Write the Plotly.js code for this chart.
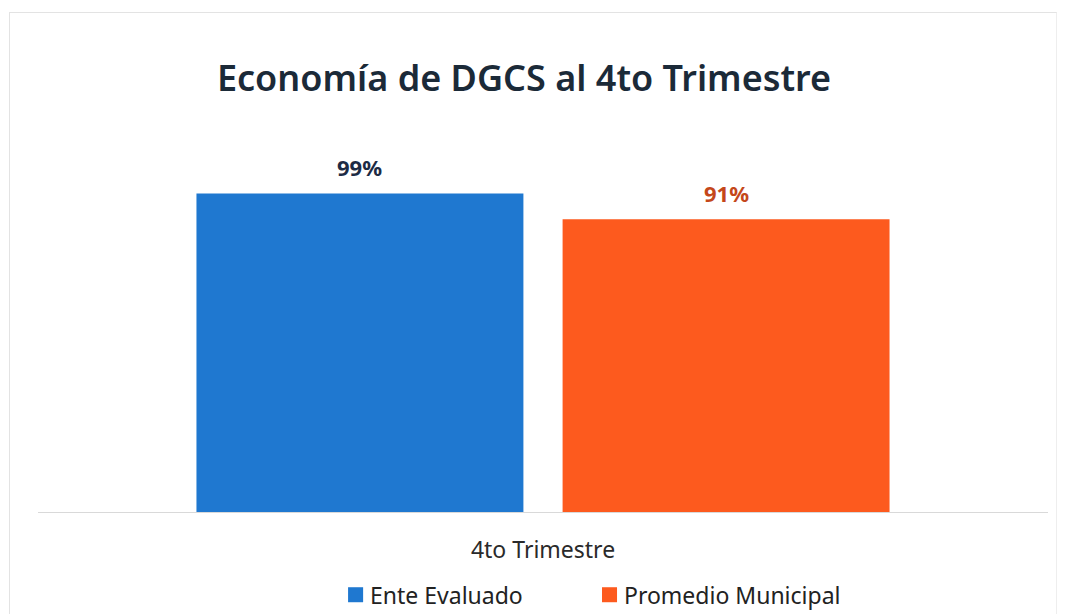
<!DOCTYPE html>
<html>
<head>
<meta charset="utf-8">
<script src="https://cdn.plot.ly/plotly-3.0.1.min.js"></script>
<style>
html,body{margin:0;padding:0;background:#fff;}
#frame{position:absolute;left:9px;top:12px;width:1046px;height:610px;border-left:1px solid #e3e3e3;border-top:1px solid #e3e3e3;border-right:1px solid #eeeeee;}
#chart{position:absolute;left:0;top:0;width:1065px;height:614px;}
</style>
</head>
<body>
<div id="frame"></div>
<div id="chart"></div>
<script>
const categories = ["4to Trimestre"];
const seriesNames = ["Ente Evaluado", "Promedio Municipal"];
const enteEvaluado = [99];
const promedioMunicipal = [91];
const seriesValues = [enteEvaluado, promedioMunicipal];

const colors = ["#1f78d0", "#fd5a1e"];
const labelColors = ["#1d2b45", "#c4471a"];

const traces = seriesValues.map((vals, i) => ({
  type: "bar",
  name: seriesNames[i],
  x: categories,
  y: vals,
  marker: {color: colors[i]},
  texttemplate: "%{y}%",
  textposition: "none",
  hoverinfo: "none",
  offsetgroup: String(i)
}));

// geometry helpers for placing labels over grouped bars (in category units)
const bargap = 0.275, bargroupgap = 0.107;
const groupWidth = 1 - bargap;
const slot = groupWidth / seriesValues.length;

const annotations = [];
seriesValues.forEach((vals, i) => {
  vals.forEach((v, j) => {
    annotations.push({
      xref: "x", yref: "y",
      x: j - groupWidth / 2 + slot * (i + 0.5),
      y: v,
      text: "<b>" + v + "%</b>",
      showarrow: false,
      yanchor: "bottom",
      yshift: 9,
      font: {family: "Noto Sans", size: 22, color: labelColors[i]}
    });
  });
});

// legend (manual, to match reference spacing)
const legendPos = [{sq: 0.307, tx: 0.327}, {sq: 0.5584, tx: 0.578}];
const shapes = [];
seriesNames.forEach((name, i) => {
  shapes.push({
    type: "rect", xref: "paper", yref: "paper",
    x0: legendPos[i].sq, x1: legendPos[i].sq + 0.0149,
    y0: -0.2125, y1: -0.2549,
    fillcolor: colors[i], line: {width: 0}
  });
  annotations.push({
    xref: "paper", yref: "paper",
    x: legendPos[i].tx, y: -0.234,
    xanchor: "left", yanchor: "middle",
    text: name, showarrow: false,
    font: {family: "Noto Sans", size: 23, color: "#222"}
  });
});

const layout = {
  width: 1065,
  height: 614,
  paper_bgcolor: "rgba(0,0,0,0)",
  plot_bgcolor: "rgba(0,0,0,0)",
  margin: {l: 38, r: 17, t: 158, b: 102, autoexpand: false},
  title: {
    text: "Economía de DGCS al 4to Trimestre",
    font: {family: "Noto Sans", size: 36, weight: 600, color: "#1b2a38"},
    x: 0.492, xanchor: "center",
    y: 0.873, yanchor: "middle", yref: "container"
  },
  bargap: bargap,
  bargroupgap: bargroupgap,
  barmode: "group",
  showlegend: false,
  annotations: annotations,
  shapes: shapes,
  xaxis: {
    showline: true,
    linecolor: "#d9d9d9",
    linewidth: 1,
    ticks: "",
    ticklabelstandoff: 17,
    tickfont: {family: "Noto Sans", size: 23, color: "#2a2a2a"},
    showgrid: false,
    zeroline: false,
    range: [-0.5, 0.5]
  },
  yaxis: {
    range: [0, 110],
    visible: false,
    showgrid: false,
    zeroline: false
  },
  font: {family: "Noto Sans"}
};

Plotly.newPlot("chart", traces, layout, {staticPlot: true});
</script>
</body>
</html>
